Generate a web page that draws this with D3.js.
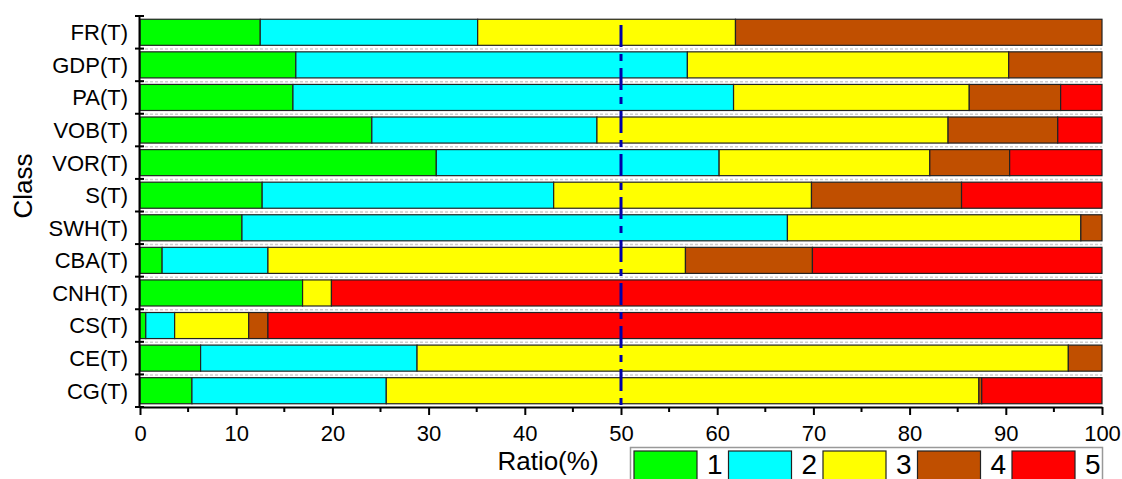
<!DOCTYPE html>
<html>
<head>
<meta charset="utf-8">
<script src="https://cdn.jsdelivr.net/npm/d3@7"></script>
<style>
  html, body { margin: 0; padding: 0; background: #fff; }
  svg { display: block; font-family: "Liberation Sans", Arial, sans-serif; }
</style>
</head>
<body>
<div id="chart"></div>
<script>
// classes, top to bottom
var classes = ["FR(T)", "GDP(T)", "PA(T)", "VOB(T)", "VOR(T)", "S(T)", "SWH(T)", "CBA(T)", "CNH(T)", "CS(T)", "CE(T)", "CG(T)"];
// ratio (%) of each level per class
var level1 = [12.5, 16.2, 15.9, 24.1, 30.8, 12.7, 10.6, 2.3, 16.9, 0.6, 6.3, 5.4];
var level2 = [22.6, 40.7, 45.8, 23.4, 29.4, 30.3, 56.7, 11.0, 0, 3.0, 22.5, 20.2];
var level3 = [26.8, 33.4, 24.5, 36.5, 21.9, 26.8, 30.5, 43.4, 3.0, 7.7, 67.7, 61.6];
var level4 = [38.1, 9.7, 9.5, 11.4, 8.3, 15.6, 2.2, 13.2, 0, 2.0, 3.5, 0.3];
var level5 = [0, 0, 4.3, 4.6, 9.6, 14.6, 0, 30.1, 80.1, 86.7, 0, 12.5];
var levels = ["1", "2", "3", "4", "5"];
var levelColors = ["#00ff00", "#00ffff", "#ffff00", "#c04f00", "#ff0000"];
var xTicks = [0, 10, 20, 30, 40, 50, 60, 70, 80, 90, 100];
var refValue = 50;

var W = 1122, H = 479;
var margin = {top: 16, right: 20, bottom: 72, left: 140};
var width = W - margin.left - margin.right,
    height = H - margin.top - margin.bottom;

var svg = d3.select("#chart").append("svg")
  .attr("width", W).attr("height", H);
var g = svg.append("g")
  .attr("transform", "translate(" + margin.left + "," + margin.top + ")");

// build rows for the stack
var series = [level1, level2, level3, level4, level5];
var rows = classes.map(function(c, i) {
  var r = {cls: c};
  levels.forEach(function(l, j) { r[l] = series[j][i]; });
  return r;
});
var stacked = d3.stack().keys(levels)(rows);

var x = d3.scaleLinear().domain([0, 100]).range([0, width]);
var y = d3.scaleBand().domain(classes).range([0, height])
  .paddingInner(0.2).paddingOuter(0.1);
var color = d3.scaleOrdinal().domain(levels).range(levelColors);

// light dashed separators between the rows
var bounds = d3.range(classes.length + 1).map(function(i) { return i * y.step(); });
g.selectAll(".sep").data(bounds.slice(1, -1)).enter().append("line")
  .attr("x1", 0).attr("x2", width)
  .attr("y1", function(d) { return d + 0.5; }).attr("y2", function(d) { return d + 0.5; })
  .attr("stroke", "#cfcfcf").attr("stroke-width", 1.5).attr("stroke-dasharray", "3,2");

// bars
g.selectAll(".layer").data(stacked).enter().append("g")
  .attr("fill", function(d) { return color(d.key); })
  .selectAll("rect").data(function(d) { return d.filter(function(p) { return p[1] - p[0] > 0; }); })
  .enter().append("rect")
  .attr("x", function(d) { return x(d[0]); })
  .attr("y", function(d) { return y(d.data.cls); })
  .attr("width", function(d) { return x(d[1]) - x(d[0]); })
  .attr("height", y.bandwidth())
  .attr("stroke", "#222").attr("stroke-width", 1.2);

// reference line at 50%
g.append("line")
  .attr("x1", x(refValue)).attr("x2", x(refValue))
  .attr("y1", 9).attr("y2", height)
  .attr("stroke", "#0000a8").attr("stroke-width", 3)
  .attr("stroke-dasharray", "22,7,7,7");

// x axis
var xAxis = g.append("g").attr("transform", "translate(0," + height + ")");
xAxis.call(d3.axisBottom(x).tickValues(xTicks).tickSize(8).tickSizeOuter(0).tickPadding(10));
xAxis.selectAll(".tick text").attr("font-size", 22).attr("fill", "#000").attr("font-family", null);
xAxis.select(".domain").attr("stroke", "#000").attr("stroke-width", 2);
xAxis.selectAll(".tick line").attr("stroke", "#000").attr("stroke-width", 2);
xAxis.selectAll(".minor").data(d3.range(5, 100, 10)).enter().append("line")
  .attr("x1", function(d) { return x(d); }).attr("x2", function(d) { return x(d); })
  .attr("y1", 0).attr("y2", 5).attr("stroke", "#000").attr("stroke-width", 2);

// y axis
var yAxis = g.append("g");
yAxis.append("line").attr("x1", -0.5).attr("x2", -0.5).attr("y1", 0).attr("y2", height)
  .attr("stroke", "#000").attr("stroke-width", 2);
yAxis.selectAll(".ytick").data(bounds).enter().append("line")
  .attr("x1", -5).attr("x2", 4)
  .attr("y1", function(d) { return d; }).attr("y2", function(d) { return d; })
  .attr("stroke", "#000").attr("stroke-width", 2);
yAxis.selectAll(".ylab").data(classes).enter().append("text")
  .attr("x", -12).attr("y", function(d) { return y(d) + y.bandwidth() / 2; })
  .attr("dy", "0.36em").attr("text-anchor", "end")
  .attr("font-size", 22).attr("fill", "#000").text(function(d) { return d; });

// axis titles
svg.append("text")
  .attr("x", 548).attr("y", 470).attr("text-anchor", "middle")
  .attr("font-size", 26).text("Ratio(%)");
svg.append("text")
  .attr("transform", "translate(32,186) rotate(-90)")
  .attr("text-anchor", "middle").attr("font-size", 26).text("Class");

// legend
var legend = svg.append("g").attr("transform", "translate(630,447)");
legend.append("rect").attr("x", 0.5).attr("y", 0.5).attr("width", 472).attr("height", 50)
  .attr("fill", "#fff").attr("stroke", "#999").attr("stroke-width", 1.5);
var item = legend.selectAll(".item").data(levels).enter().append("g")
  .attr("transform", function(d, i) { return "translate(" + (4 + i * 94.5) + ",4)"; });
item.append("rect").attr("width", 63).attr("height", 40)
  .attr("fill", function(d) { return color(d); })
  .attr("stroke", "#222").attr("stroke-width", 1.2);
item.append("text").attr("x", 73).attr("y", 23)
  .attr("font-size", 28).text(function(d) { return d; });
</script>
</body>
</html>
